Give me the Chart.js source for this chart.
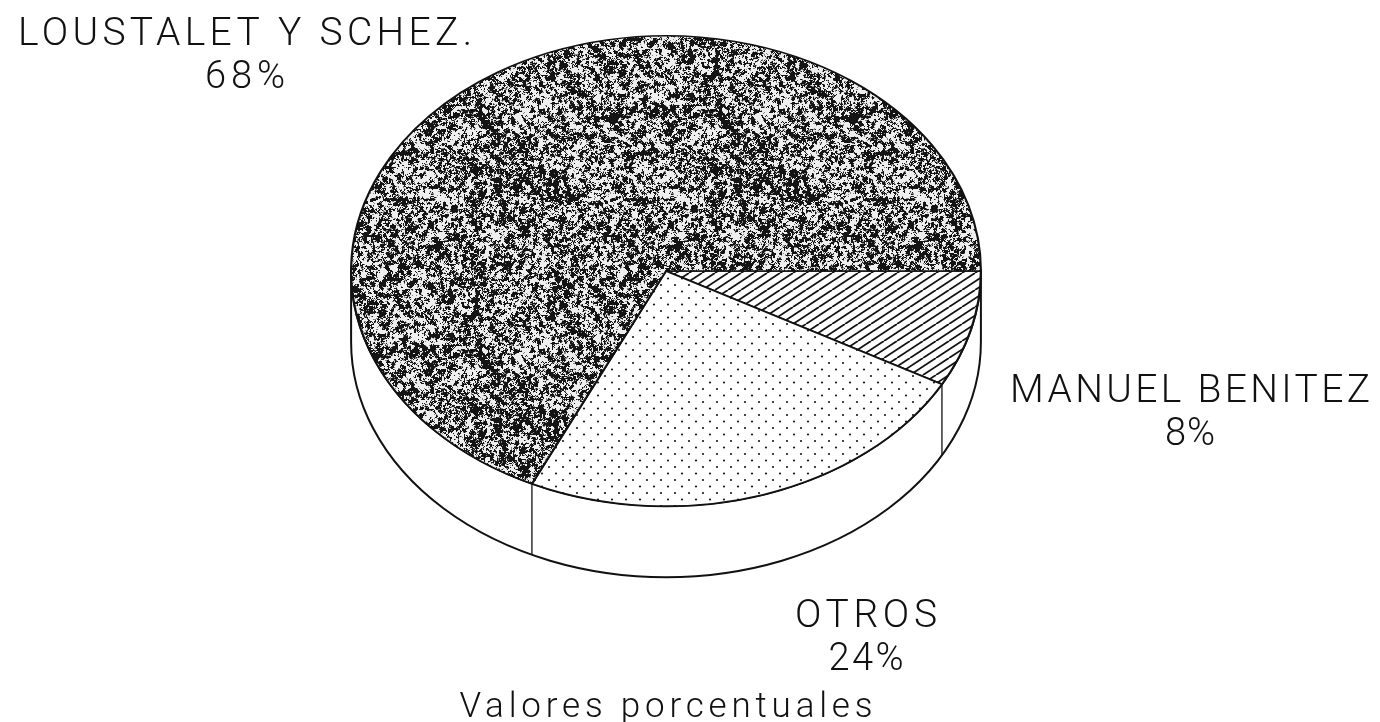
<!DOCTYPE html>
<html><head><meta charset="utf-8">
<script src="https://cdn.jsdelivr.net/npm/chart.js@4.4.0/dist/chart.umd.min.js"></script>
<style>
html,body{margin:0;padding:0;background:#fff;overflow:hidden;width:1380px;height:722px}
#wrap{position:absolute;left:0;top:-45px;width:1380px;height:800px}
</style></head>
<body><div id="wrap"><canvas id="c" width="1380" height="800"></canvas></div>
<script>
// ---- data ----
const categories = ['MANUEL BENITEZ', 'OTROS', 'LOUSTALET Y SCHEZ.'];
const shares = [8, 24, 68];
const shareLabels = ['8%', '24%', '68%'];
const chartTitle = 'Valores porcentuales';

// ---- style / layout ----
const PAGE_SHIFT = 45;          // canvas is shifted up by this many px
const TILT = 236 / 316;         // vertical squash of the pie face
const DEPTH = 71;               // thickness of the pie wall
const FONT = 'Roboto, "Liberation Sans", Arial, sans-serif';
const FONT_WEIGHT = '300';
const labelLayout = [
  {x: 1190, nameY: 402, pctY: 445, nameW: 360, pctW: 50},
  {x: 866,  nameY: 627, pctY: 670, nameW: 142, pctW: 75},
  {x: 245,  nameY: 45,  pctY: 88,  nameW: 454, pctW: 80}
];
const titleY = 717, titleW = 413;

function makeRng(seed){ let s = seed >>> 0; return () => { s = (Math.imul(s, 1664525) + 1013904223) >>> 0; return s / 4294967296; }; }

function granitePattern(ctx){
  const N = 240, c = document.createElement('canvas'); c.width = c.height = N;
  const g = c.getContext('2d'); const rnd = makeRng(987654);
  function grid(cell){
    const m = N / cell, v = [];
    for (let i = 0; i < m * m; i++) v.push(rnd());
    return (x, y) => {
      const gx = x / cell, gy = y / cell, x0 = Math.floor(gx), y0 = Math.floor(gy);
      const fx = gx - x0, fy = gy - y0, sx = fx*fx*(3-2*fx), sy = fy*fy*(3-2*fy);
      const at = (i, j) => v[(j % m) * m + (i % m)];
      return (at(x0,y0)*(1-sx) + at(x0+1,y0)*sx)*(1-sy) + (at(x0,y0+1)*(1-sx) + at(x0+1,y0+1)*sx)*sy;
    };
  }
  const n1 = grid(20), n2 = grid(4), n3 = grid(2);
  const img = g.createImageData(N, N);
  for (let y = 0; y < N; y++) for (let x = 0; x < N; x++) {
    const v = 0.08*n1(x,y) + 0.32*n2(x,y) + 0.35*n3(x,y) + 0.25*rnd();
    const val = v > 0.52 ? 238 : (v > 0.49 ? 130 : 20);
    const k = (y*N + x) * 4; img.data[k] = img.data[k+1] = img.data[k+2] = val; img.data[k+3] = 255;
  }
  g.putImageData(img, 0, 0);
  const p = ctx.createPattern(c, 'repeat'); p.setTransform(new DOMMatrix([1,0,0,1/TILT,0,0])); return p;
}
function dotPattern(ctx){
  const c = document.createElement('canvas'); c.width = 14; c.height = 13;
  const g = c.getContext('2d'); g.fillStyle = '#fff'; g.fillRect(0,0,14,13);
  g.fillStyle = '#1a1a1a';
  [[3,3],[10,9.5]].forEach(([x,y]) => { g.beginPath(); g.arc(x, y, 1.1, 0, Math.PI*2); g.fill(); });
  const p = ctx.createPattern(c, 'repeat'); p.setTransform(new DOMMatrix([1,0,0,1/TILT,0,0])); return p;
}
function hatchPattern(ctx){
  const W = 26, H = 17, c = document.createElement('canvas'); c.width = W; c.height = H;
  const g = c.getContext('2d'); g.fillStyle = '#fff'; g.fillRect(0,0,W,H);
  g.strokeStyle = '#111'; g.lineWidth = 1.8;
  for (let x0 = -2*W; x0 <= 2*W; x0 += W/2) { g.beginPath(); g.moveTo(x0, H); g.lineTo(x0 + W, 0); g.stroke(); }
  const p = ctx.createPattern(c, 'repeat'); p.setTransform(new DOMMatrix([1,0,0,1/TILT,0,0])); return p;
}

const tiltPlugin = {
  id: 'tilt',
  beforeDatasetsDraw(chart){
    const ctx = chart.ctx, arcs = chart.getDatasetMeta(0).data;
    const cx = arcs[0].x, cy = arcs[0].y, R = arcs[0].outerRadius, ry = R * TILT;
    ctx.save();
    ctx.beginPath();
    ctx.moveTo(cx + R, cy);
    ctx.lineTo(cx + R, cy + DEPTH);
    ctx.ellipse(cx, cy + DEPTH, R, ry, 0, 0, Math.PI, false);
    ctx.lineTo(cx - R, cy);
    ctx.ellipse(cx, cy, R, ry, 0, Math.PI, 0, true);
    ctx.closePath();
    ctx.fillStyle = '#fff'; ctx.fill();
    ctx.strokeStyle = '#111'; ctx.lineWidth = 2; ctx.stroke();
    ctx.lineWidth = 1.3;
    arcs.forEach(a => {
      let t = a.startAngle % (2*Math.PI); if (t < 0) t += 2*Math.PI;
      if (t > 0.01 && t < Math.PI - 0.01) {
        const x = cx + R*Math.cos(t), y = cy + ry*Math.sin(t);
        ctx.beginPath(); ctx.moveTo(x, y); ctx.lineTo(x, y + DEPTH); ctx.stroke();
      }
    });
    ctx.restore();
    ctx.save();
    ctx.translate(cx, cy); ctx.scale(1, TILT); ctx.translate(-cx, -cy);
  },
  afterDatasetsDraw(chart){ chart.ctx.restore(); }
};

function fitText(ctx, text, cx, y, size, width){
  ctx.font = FONT_WEIGHT + ' ' + size + 'px ' + FONT;
  ctx.letterSpacing = '0px';
  const w = ctx.measureText(text).width;
  const n = Array.from(text).length;
  const sp = n > 1 ? Math.max(0, (width - w) / (n - 1)) : 0;
  ctx.letterSpacing = sp + 'px';
  ctx.textAlign = 'left';
  ctx.fillText(text, cx - width / 2, y);
}

const labelPlugin = {
  id: 'labels',
  afterDraw(chart){
    const ctx = chart.ctx, arcs = chart.getDatasetMeta(0).data;
    ctx.save();
    ctx.fillStyle = '#111'; ctx.textBaseline = 'alphabetic';
    categories.forEach((name, i) => {
      const L = labelLayout[i];
      fitText(ctx, name, L.x, L.nameY + PAGE_SHIFT, 39, L.nameW);
      fitText(ctx, shareLabels[i], L.x, L.pctY + PAGE_SHIFT, 38, L.pctW);
    });
    fitText(ctx, chartTitle, arcs[0].x, titleY + PAGE_SHIFT, 35, titleW);
    ctx.restore();
  }
};

const ctx = document.getElementById('c').getContext('2d');
new Chart(ctx, {
  type: 'pie',
  data: {
    labels: categories,
    datasets: [{
      data: shares,
      backgroundColor: [hatchPattern(ctx), dotPattern(ctx), granitePattern(ctx)],
      borderColor: '#111', borderWidth: 2.2, hoverOffset: 0
    }]
  },
  options: {
    responsive: false, animation: false, events: [],
    rotation: 90,
    layout: {padding: {left: 350, right: 398, top: 0, bottom: 168}},
    plugins: {legend: {display: false}, tooltip: {enabled: false}, title: {display: false}}
  },
  plugins: [tiltPlugin, labelPlugin]
});
</script>
</body></html>
